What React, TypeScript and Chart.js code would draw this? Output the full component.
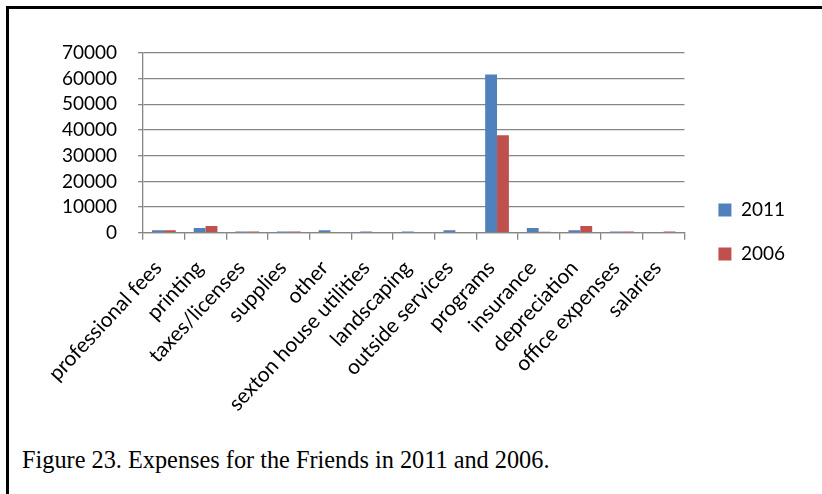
import React, { useEffect, useRef } from 'react';
import { Chart, registerables } from 'chart.js';

Chart.register(...registerables);

const categories = [
  'professional fees',
  'printing',
  'taxes/licenses',
  'supplies',
  'other',
  'sexton house utilities',
  'landscaping',
  'outside services',
  'programs',
  'insurance',
  'depreciation',
  'office expenses',
  'salaries',
];
const seriesNames = ['2011', '2006'];
const values2011 = [1000, 1800, 500, 500, 1000, 500, 500, 1000, 61600, 1800, 1000, 500, 0];
const values2006 = [1000, 2600, 500, 500, 0, 0, 0, 0, 38000, 400, 2600, 500, 500];
const yTicks = [0, 10000, 20000, 30000, 40000, 50000, 60000, 70000];

const FONT = 'Lato';
const GRID = '#868686';

export default function App() {
  const ref = useRef<HTMLCanvasElement>(null);
  useEffect(() => {
    document.body.style.margin = '0';
    document.body.style.overflow = 'hidden';
    const chart = new Chart(ref.current as HTMLCanvasElement, {
      type: 'bar',
      data: {
        labels: categories,
        datasets: [
          { label: seriesNames[0], data: values2011, backgroundColor: '#4F81BD', categoryPercentage: 0.57, barPercentage: 1 },
          { label: seriesNames[1], data: values2006, backgroundColor: '#C0504D', categoryPercentage: 0.57, barPercentage: 1 },
        ],
      },
      options: {
        animation: false,
        responsive: true,
        maintainAspectRatio: false,
        layout: { padding: { left: 31, top: 22, right: 20, bottom: 0 } },
        plugins: {
          legend: {
            position: 'right',
            labels: { boxWidth: 13, boxHeight: 13, padding: 25, color: '#000', font: { family: FONT, size: 19 } },
          },
          tooltip: { enabled: false },
        },
        scales: {
          x: {
            grid: { display: true, drawOnChartArea: false, offset: true, color: GRID, tickLength: 7, lineWidth: 1.3 },
            border: { color: GRID, width: 1.3 },
            ticks: { minRotation: 47, maxRotation: 47, autoSkip: false, padding: 16, labelOffset: -6, color: '#000', font: { family: FONT, size: 21 } },
          },
          y: {
            min: 0,
            max: 70000,
            afterBuildTicks: (s: any) => { s.ticks = yTicks.map((v) => ({ value: v })); },
            ticks: { autoSkip: false, padding: 21, color: '#000', font: { family: FONT, size: 19 }, callback: (v: any) => String(v) },
            grid: { color: GRID, tickLength: 5, lineWidth: 1.3 },
            border: { color: GRID, width: 1.3 },
          },
          gapRight: {
            position: 'right',
            display: true,
            grid: { display: false },
            border: { display: false },
            ticks: { display: false },
            afterFit: (s: any) => { s.width = 9; },
          },
          gapTop: {
            position: 'top',
            display: true,
            grid: { display: false },
            border: { display: false },
            ticks: { display: false },
            afterFit: (s: any) => { s.height = 21; },
          },
        },
      } as any,
    });
    return () => chart.destroy();
  }, []);

  return (
    <div style={{ position: 'relative', width: 822, height: 494, background: '#fff', overflow: 'hidden' }}>
      <div style={{ position: 'absolute', left: 6, top: 6, width: 816, height: 488, boxSizing: 'border-box', borderLeft: '3px solid #000', borderTop: '3px solid #000' }} />
      <div style={{ position: 'absolute', left: 10, top: 10, width: 805, height: 422 }}>
        <canvas ref={ref} />
      </div>
      <div style={{ position: 'absolute', left: 22, top: 446, fontFamily: '"Liberation Serif"', fontSize: 24.3, color: '#000', whiteSpace: 'nowrap' }}>
        Figure 23. Expenses for the Friends in 2011 and 2006.
      </div>
    </div>
  );
}
